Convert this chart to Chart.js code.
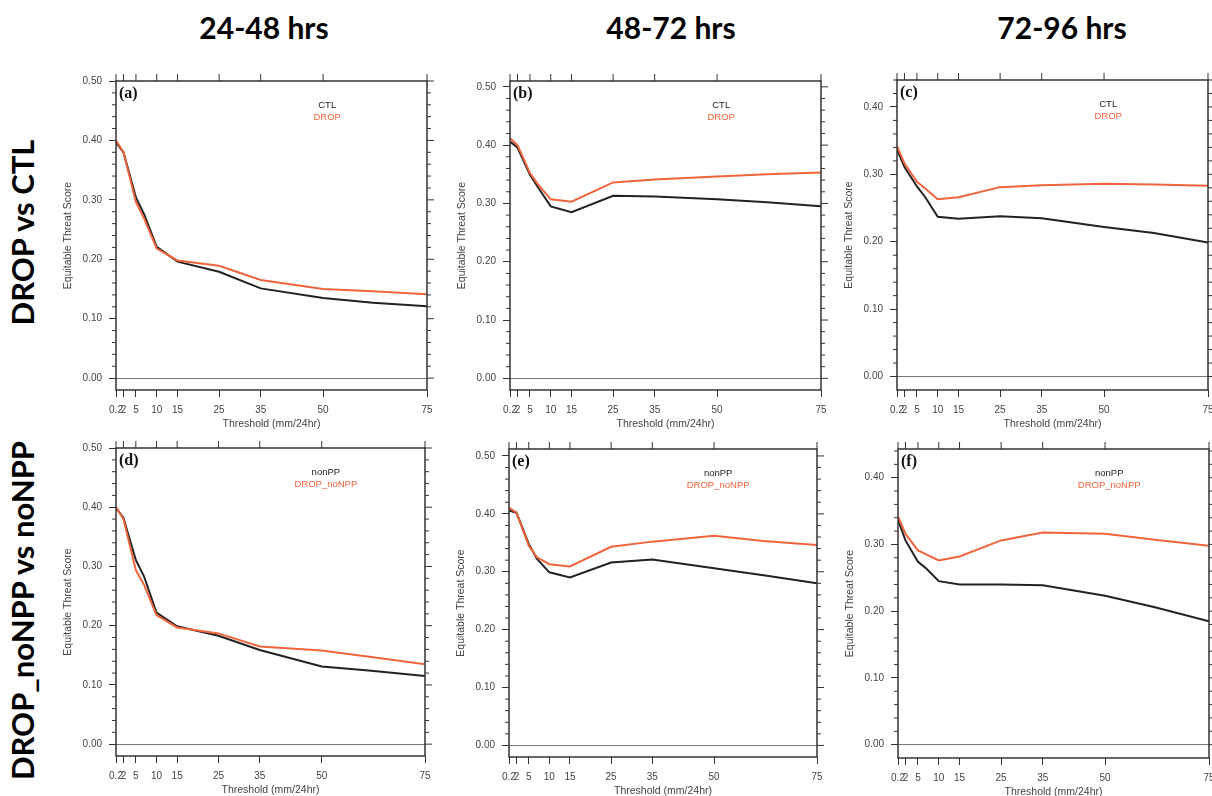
<!DOCTYPE html>
<html>
<head>
<meta charset="utf-8">
<script src="https://cdn.jsdelivr.net/npm/chart.js@4.4.1/dist/chart.umd.min.js"></script>
<style>
  html, body { margin: 0; padding: 0; background: #fff; width: 1212px; height: 796px; overflow: hidden; }
  .head { position: absolute; width: 300px; text-align: center; font: bold 30px Lato, sans-serif; line-height: 1; color: #000; }
  .row { position: absolute; width: 420px; text-align: center; font: bold 31px Lato, sans-serif; line-height: 1; color: #000; transform: rotate(-90deg); }
  canvas { position: absolute; }
</style>
</head>
<body>
<div class="head" style="left:114px;top:12px">24-48 hrs</div>
<div class="head" style="left:521px;top:12px">48-72 hrs</div>
<div class="head" style="left:912px;top:12px">72-96 hrs</div>
<div class="row" style="left:-188px;top:217px">DROP vs CTL</div>
<div class="row" style="left:-188px;top:595px">DROP_noNPP vs noNPP</div>

<script>
// soglie (mm/24hr) e valori ETS
const thresholds = [0.2, 2, 5, 7, 10, 15, 25, 35, 50, 62, 75];
const xTicks = [0.2, 2, 5, 10, 15, 25, 35, 50, 75];
const yTicks = [0, 0.1, 0.2, 0.3, 0.4, 0.5];

const ctlA  = [0.397, 0.380, 0.304, 0.275, 0.221, 0.196, 0.179, 0.151, 0.135, 0.127, 0.121];
const dropA = [0.400, 0.380, 0.296, 0.268, 0.218, 0.198, 0.189, 0.165, 0.150, 0.146, 0.141];
const ctlB  = [0.406, 0.396, 0.349, 0.327, 0.295, 0.285, 0.313, 0.312, 0.307, 0.302, 0.295];
const dropB = [0.412, 0.400, 0.352, 0.332, 0.307, 0.303, 0.336, 0.341, 0.346, 0.350, 0.353];
const ctlC  = [0.337, 0.311, 0.282, 0.266, 0.237, 0.234, 0.238, 0.235, 0.222, 0.213, 0.199];
const dropC = [0.342, 0.316, 0.289, 0.279, 0.263, 0.266, 0.281, 0.284, 0.286, 0.285, 0.283];
const nonppD = [0.399, 0.382, 0.311, 0.283, 0.222, 0.199, 0.183, 0.159, 0.131, 0.124, 0.115];
const dropNoD = [0.400, 0.380, 0.294, 0.269, 0.218, 0.197, 0.187, 0.165, 0.158, 0.147, 0.135];
const nonppE = [0.406, 0.402, 0.348, 0.322, 0.299, 0.290, 0.316, 0.321, 0.306, 0.294, 0.280];
const dropNoE = [0.411, 0.402, 0.345, 0.325, 0.313, 0.309, 0.343, 0.352, 0.362, 0.353, 0.346];
const nonppF = [0.337, 0.306, 0.274, 0.264, 0.245, 0.240, 0.240, 0.239, 0.223, 0.206, 0.185];
const dropNoF = [0.342, 0.316, 0.291, 0.285, 0.276, 0.282, 0.306, 0.318, 0.316, 0.307, 0.298];

const letters = ['(a)', '(b)', '(c)', '(d)', '(e)', '(f)'];
const namesTop = ['CTL', 'DROP'];
const namesBottom = ['nonPP', 'DROP_noNPP'];
const yMaxs = [0.50, 0.51, 0.44, 0.50, 0.512, 0.443];

// area del grafico di ogni pannello: left, top, right, bottom
const boxes = [
    [116, 80, 427, 390], [510, 80, 821, 390], [897, 79, 1208, 390],
    [116, 447, 425, 756], [509, 448, 817, 757], [898, 448, 1209, 758]
];

const ORANGE = '#f0643c';
const BLACK = '#222';
const Y_W = 56, X_H = 42, PAD_L = 2, PAD_T = 12, PAD_R = 14, PAD_B = 2;

// cornice, tacche sopra/destra, tacche minori, lettera e legenda stile NCL
const nclFrame = {
    id: 'nclFrame',
    afterDraw(chart, args, opts) {
        const { ctx, chartArea: a, scales: { x, y } } = chart;
        ctx.save();
        ctx.strokeStyle = '#333';
        ctx.lineWidth = 1.5;
        ctx.strokeRect(a.left, a.top, a.right - a.left, a.bottom - a.top);
        ctx.lineWidth = 1;
        ctx.beginPath();
        xTicks.forEach(v => {
            const px = x.getPixelForValue(v);
            ctx.moveTo(px, a.top);
            ctx.lineTo(px, a.top - 7);
        });
        const n = Math.floor(y.max * 50 + 1e-6);
        for (let i = 0; i <= n; i++) {
            const py = y.getPixelForValue(i / 50);
            const len = i % 5 === 0 ? 7 : 4;
            ctx.moveTo(a.right, py);
            ctx.lineTo(a.right + len, py);
            if (i % 5 !== 0) {
                ctx.moveTo(a.left, py);
                ctx.lineTo(a.left - len, py);
            }
        }
        ctx.stroke();

        ctx.textBaseline = 'middle';
        ctx.textAlign = 'left';
        ctx.fillStyle = '#111';
        ctx.font = 'bold 16px "Liberation Serif"';
        ctx.fillText(opts.letter, a.left + 3, a.top + 13);

        ctx.textAlign = 'center';
        ctx.font = '9.5px "Liberation Sans"';
        const lx = x.getPixelForValue(51);
        ctx.fillStyle = BLACK;
        ctx.fillText(opts.names[0], lx, a.top + 24);
        ctx.fillStyle = ORANGE;
        ctx.fillText(opts.names[1], lx, a.top + 36);
        ctx.restore();
    }
};

function punti(values) {
    return thresholds.map((t, i) => ({ x: t, y: values[i] }));
}

function creaPannello(i, black, orange, names) {
    const [l, t, r, b] = boxes[i];
    const canvas = document.createElement('canvas');
    canvas.width = (r - l) + Y_W + PAD_L + PAD_R;
    canvas.height = (b - t) + PAD_T + X_H + PAD_B;
    canvas.style.left = (l - Y_W - PAD_L) + 'px';
    canvas.style.top = (t - PAD_T) + 'px';
    document.body.appendChild(canvas);

    const yMax = yMaxs[i];
    const tickFont = { family: 'Liberation Sans', size: 10 };
    const titleFont = { family: 'Liberation Sans', size: 10.5 };

    new Chart(canvas.getContext('2d'), {
        type: 'line',
        data: {
            datasets: [
                { data: punti(orange), borderColor: ORANGE, borderWidth: 2, pointRadius: 0, fill: false, order: 0 },
                { data: punti(black), borderColor: BLACK, borderWidth: 2, pointRadius: 0, fill: false, order: 1 }
            ]
        },
        options: {
            responsive: false,
            animation: false,
            devicePixelRatio: 1,
            layout: { padding: { left: PAD_L, top: PAD_T, right: PAD_R, bottom: PAD_B } },
            plugins: {
                legend: { display: false },
                tooltip: { enabled: false },
                nclFrame: { letter: letters[i], names: names }
            },
            scales: {
                x: {
                    type: 'linear',
                    min: 0.2,
                    max: 75,
                    afterBuildTicks: s => { s.ticks = xTicks.map(v => ({ value: v })); },
                    afterFit: s => { s.height = X_H; },
                    border: { display: false },
                    grid: { drawOnChartArea: false, drawTicks: true, tickLength: 7, tickColor: '#333', tickWidth: 1 },
                    ticks: { autoSkip: false, maxRotation: 0, padding: 7, color: '#444', font: tickFont, callback: v => String(v) },
                    title: { display: true, text: 'Threshold (mm/24hr)', color: '#444', font: titleFont, padding: { top: 0, bottom: 2 } }
                },
                y: {
                    type: 'linear',
                    min: -0.02,
                    max: yMax,
                    afterBuildTicks: s => { s.ticks = yTicks.filter(v => v <= yMax + 1e-9).map(v => ({ value: v })); },
                    afterFit: s => { s.width = Y_W; },
                    border: { display: false },
                    grid: {
                        color: c => (c.tick && Math.abs(c.tick.value) < 1e-9) ? '#777' : 'rgba(0,0,0,0)',
                        lineWidth: 1,
                        drawTicks: true,
                        tickLength: 7,
                        tickColor: '#333',
                        tickWidth: 1
                    },
                    ticks: { padding: 7, color: '#444', font: tickFont, callback: v => v.toFixed(2) },
                    title: { display: true, text: 'Equitable Threat Score', color: '#444', font: titleFont, padding: { top: 2, bottom: 0 } }
                }
            }
        },
        plugins: [nclFrame]
    });
}

document.addEventListener('DOMContentLoaded', () => {
    creaPannello(0, ctlA, dropA, namesTop);
    creaPannello(1, ctlB, dropB, namesTop);
    creaPannello(2, ctlC, dropC, namesTop);
    creaPannello(3, nonppD, dropNoD, namesBottom);
    creaPannello(4, nonppE, dropNoE, namesBottom);
    creaPannello(5, nonppF, dropNoF, namesBottom);
});
</script>
</body>
</html>
